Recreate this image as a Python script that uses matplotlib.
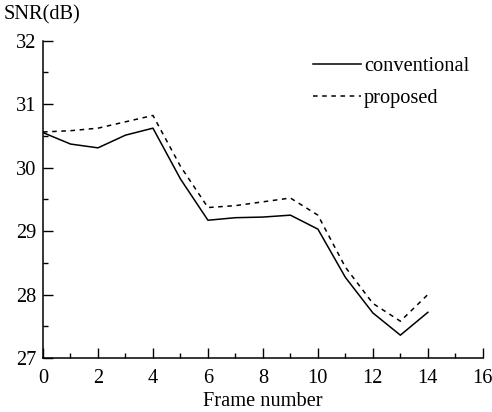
import matplotlib.pyplot as plt
from matplotlib.ticker import MultipleLocator

frames = list(range(15))
conventional = [30.55, 30.37, 30.31, 30.51, 30.62, 29.82, 29.17, 29.21, 29.22, 29.25,
                29.03, 28.27, 27.71, 27.36, 27.72]
proposed = [30.56, 30.58, 30.62, 30.72, 30.82, 30.02, 29.37, 29.40, 29.46, 29.52,
            29.25, 28.43, 27.86, 27.58, 28.00]

plt.rcParams["font.family"] = ["Liberation Serif", "DejaVu Serif"]
plt.rcParams["font.size"] = 14.7

fig = plt.figure(figsize=(4.92, 4.12), dpi=100)
ax = fig.add_axes([0.0874, 0.131, 0.894, 0.7706])

ax.plot(frames, conventional, color="black", linewidth=1.1, label="conventional")
ax.plot(frames, proposed, color="black", linewidth=1.1, linestyle=(0, (3, 3)), label="proposed")

ax.set_xlim(0, 16)
ax.set_ylim(27, 32)
ax.xaxis.set_major_locator(MultipleLocator(2))
ax.xaxis.set_minor_locator(MultipleLocator(1))
ax.yaxis.set_major_locator(MultipleLocator(1))
ax.yaxis.set_minor_locator(MultipleLocator(0.5))
ax.tick_params(which="major", direction="in", length=7, width=1)
ax.tick_params(which="minor", direction="in", length=3.5, width=1)
ax.tick_params(axis="x", which="major", pad=8)
ax.tick_params(axis="y", which="major", pad=5)

for s in ("top", "right"):
    ax.spines[s].set_visible(False)
for s in ("left", "bottom"):
    ax.spines[s].set_linewidth(1.1)

ax.set_xlabel("Frame number", labelpad=2.5)
fig.text(0.008, 0.963, "SNR(dB)", ha="left", va="center")

ax.legend(loc="upper left", bbox_to_anchor=(0.636, 0.862), bbox_transform=fig.transFigure,
          frameon=False, borderpad=0, borderaxespad=0,
          handlelength=2.35, handletextpad=0.15, labelspacing=0.62)

fig.savefig("out.png", dpi=100)
